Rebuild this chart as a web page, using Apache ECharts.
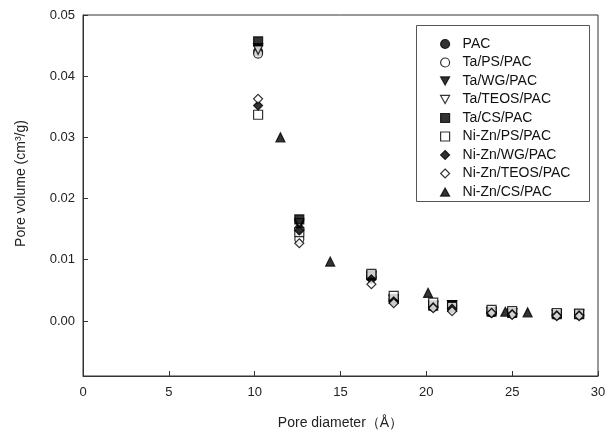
<!DOCTYPE html>
<html>
<head>
<meta charset="utf-8">
<script src="https://cdn.jsdelivr.net/npm/echarts@6/dist/echarts.min.js"></script>
<style>
  html, body { margin: 0; padding: 0; background: #fff; }
  #chart { width: 616px; height: 433px; }
</style>
</head>
<body>
<div id="chart"></div>
<script>
// pore diameter (Å) shared by most samples
const diam = [10.2, 12.6, 16.8, 18.1, 20.4, 21.5, 23.8, 25.0, 27.6, 28.9];

// pore volume (cm3/g) per sample
const pac        = [0.0440, 0.0150, 0.0073, 0.0034, 0.0024, 0.0025, 0.0014, 0.0012, 0.0010, 0.0010];
const taPs       = [0.0437, 0.0134, 0.0071, 0.0033, 0.0023, 0.0024, 0.0014, 0.0012, 0.0010, 0.0010];
const taWg       = [0.0446, 0.0157, 0.0073, 0.0035, 0.0025, 0.0026, 0.0015, 0.0013, 0.0011, 0.0011];
const taTeos     = [0.0443, 0.0160, 0.0072, 0.0034, 0.0024, 0.0025, 0.0014, 0.0012, 0.0010, 0.0010];
const taCs       = [0.0457, 0.0166, 0.0075, 0.0036, 0.0025, 0.0026, 0.0015, 0.0013, 0.0011, 0.0011];
const niPs       = [0.0337, 0.0145, 0.0077, 0.0041, 0.0030, 0.0023, 0.0018, 0.0016, 0.0013, 0.0012];
const niWg       = [0.0352, 0.0148, 0.0068, 0.0032, 0.0022, 0.0020, 0.0013, 0.0011, 0.0009, 0.0009];
const niTeos     = [0.0363, 0.0127, 0.0060, 0.0029, 0.0021, 0.0016, 0.0013, 0.0010, 0.0008, 0.0008];

// Ni-Zn/CS/PAC has its own diameters
const niCsDiam   = [11.5, 14.4, 20.1, 24.6, 25.9];
const niCs       = [0.0300, 0.0097, 0.0046, 0.0015, 0.0014];

const xTicks = [0, 5, 10, 15, 20, 25, 30];
const yTicks = [0, 0.01, 0.02, 0.03, 0.04, 0.05];

const pair = (xs, ys) => xs.map((x, i) => [x, ys[i]]);

const triDown = "path://M0,0 L10,0 L5,9 Z";
const triUp = "path://M5,0 L10,9 L0,9 Z";

const samples = [
    { name: "PAC", symbol: "circle", hollow: false, data: pair(diam, pac) },
    { name: "Ta/PS/PAC", symbol: "circle", hollow: true, data: pair(diam, taPs) },
    { name: "Ta/WG/PAC", symbol: triDown, hollow: false, data: pair(diam, taWg) },
    { name: "Ta/TEOS/PAC", symbol: triDown, hollow: true, data: pair(diam, taTeos) },
    { name: "Ta/CS/PAC", symbol: "rect", hollow: false, data: pair(diam, taCs) },
    { name: "Ni-Zn/PS/PAC", symbol: "rect", hollow: true, data: pair(diam, niPs) },
    { name: "Ni-Zn/WG/PAC", symbol: "diamond", hollow: false, data: pair(diam, niWg) },
    { name: "Ni-Zn/TEOS/PAC", symbol: "diamond", hollow: true, data: pair(diam, niTeos) },
    { name: "Ni-Zn/CS/PAC", symbol: triUp, hollow: false, data: pair(niCsDiam, niCs) }
];

const markStyle = s => ({
    color: s.hollow ? "#fff" : "#000",
    borderColor: "#000",
    borderWidth: 1.2
});

const font = "Liberation Sans, Arial, sans-serif";
const chart = echarts.init(document.getElementById("chart"));

chart.setOption({
    animation: false,
    backgroundColor: "#fff",
    grid: {
        left: 83, right: 18, top: 15, bottom: 57,
        outerBoundsMode: "none",
        show: true, borderColor: "#333", borderWidth: 1
    },
    xAxis: {
        type: "value",
        min: 0, max: 30, interval: 5,
        name: "Pore diameter（Å）",
        nameLocation: "middle",
        nameGap: 40,
        nameTextStyle: { fontFamily: font, fontSize: 14, color: "#222" },
        axisLine: { show: true, onZero: false, lineStyle: { color: "#333", width: 1 } },
        axisTick: { show: true, inside: true, length: 5, lineStyle: { color: "#333" } },
        axisLabel: {
            fontFamily: font, fontSize: 13, color: "#222", margin: 10,
            customValues: xTicks
        },
        splitLine: { show: false }
    },
    yAxis: {
        type: "value",
        min: -0.009, max: 0.05,
        name: "Pore volume (cm³/g)",
        nameLocation: "middle",
        nameGap: 55,
        nameTextStyle: { fontFamily: font, fontSize: 14, color: "#222", padding: [0, 0, 0, 24] },
        axisLine: { show: true, onZero: false, lineStyle: { color: "#333", width: 1 } },
        axisTick: { show: true, inside: true, length: 5, lineStyle: { color: "#333" }, customValues: yTicks },
        axisLabel: {
            fontFamily: font, fontSize: 13, color: "#222", margin: 8,
            customValues: yTicks,
            formatter: v => v.toFixed(2)
        },
        splitLine: { show: false }
    },
    legend: {
        orient: "vertical",
        left: 440, top: 37,
        itemWidth: 9, itemHeight: 9,
        itemGap: 4.5,
        padding: 0,
        textStyle: { fontFamily: font, fontSize: 14, color: "#111", lineHeight: 14, padding: [0, 0, 0, 8] },
        data: samples.map(s => ({ name: s.name, icon: s.symbol, itemStyle: markStyle(s) }))
    },
    graphic: [{
        type: "rect",
        shape: { x: 416.5, y: 25.5, width: 173, height: 176 },
        style: { fill: null, stroke: "#555", lineWidth: 1 },
        z: 10
    }],
    series: samples.map(s => ({
        name: s.name,
        type: "scatter",
        symbol: s.symbol,
        symbolSize: 9,
        itemStyle: markStyle(s),
        data: s.data
    }))
});
</script>
</body>
</html>
